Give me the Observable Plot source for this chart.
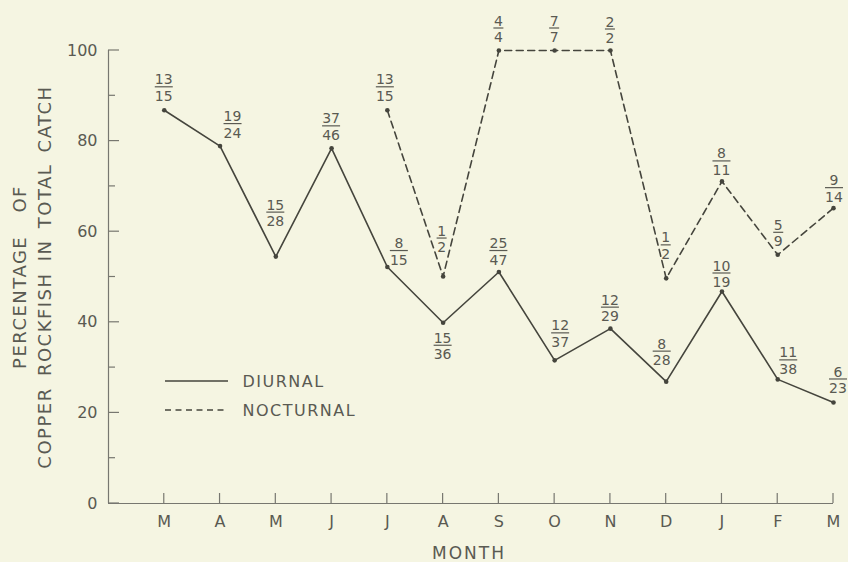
<!DOCTYPE html>
<html><head><meta charset="utf-8">
<script src="https://cdn.jsdelivr.net/npm/d3@7"></script>
<script src="https://cdn.jsdelivr.net/npm/@observablehq/plot@0.6"></script>
<style>
html,body{margin:0;padding:0;background:#f5f5e2;}
</style>
</head><body><div id="chart"></div>
<script>
const months = ["M","A","M","J","J","A","S","O","N","D","J","F","M"];
const diurnalPct = [86.8, 78.9, 54.5, 78.4, 52.2, 39.9, 51.1, 31.6, 38.6, 26.9, 46.8, 27.4, 22.3];
const diurnalNum = [13, 19, 15, 37, 8, 15, 25, 12, 12, 8, 10, 11, 6];
const diurnalDen = [15, 24, 28, 46, 15, 36, 47, 37, 29, 28, 19, 38, 23];
const nocturnalPct = [null, null, null, null, 86.8, 50.1, 100, 100, 100, 49.7, 71.1, 54.9, 65.2];
const nocturnalNum = [null, null, null, null, 13, 1, 4, 7, 2, 1, 8, 5, 9];
const nocturnalDen = [null, null, null, null, 15, 2, 4, 7, 2, 2, 11, 9, 14];
const yTicks = [0, 20, 40, 60, 80, 100];
const yMinorTicks = [10, 30, 50, 70, 90];
const seriesNames = ["DIURNAL", "NOCTURNAL"];

// label placement: pixel offset of each fraction bar from its point
const diurnalLabelOffset = [[0,-23],[13,-22],[0,-44],[0,-22],[12,-16],[0,23],[0,-21],[6,-27],[0,-21],[-4,-30],[0,-18],[11,-19],[5,-23]];
const nocturnalLabelOffset = [null,null,null,null,[-2,-23],[-1,-38],[0,-22],[0,-22],[0,-21],[0,-33],[0,-20],[1,-22],[1,-20]];

const ink = "#45453d";
const axisInk = "#777770";
const textInk = "#5a5a52";

const diurnal = months.map((m, i) => ({i, v: diurnalPct[i]}));
const nocturnal = months.map((m, i) => ({i, v: nocturnalPct[i]})).filter(d => d.v != null);

function fractionMark(pct, num, den, offs) {
  return (index, scales) => {
    const g = d3.create("svg:g").attr("font-size", 14).attr("fill", textInk)
      .attr("text-anchor", "middle").attr("font-family", "DejaVu Sans");
    pct.forEach((v, i) => {
      if (v == null) return;
      const cx = scales.x(i) + offs[i][0], cy = scales.y(v) + offs[i][1];
      const n = Math.max(String(num[i]).length, String(den[i]).length);
      const w = n * 8 + 2;
      g.append("text").attr("x", cx).attr("y", cy - 7.5).attr("dy", "0.36em").text(num[i]);
      g.append("line").attr("x1", cx - w / 2).attr("x2", cx + w / 2).attr("y1", cy).attr("y2", cy)
        .attr("stroke", textInk).attr("stroke-width", 1.2);
      g.append("text").attr("x", cx).attr("y", cy + 9).attr("dy", "0.36em").text(den[i]);
    });
    return g.node();
  };
}

// inward-pointing axis ticks, placed through the plot's scales
function axisTicks(index, scales) {
  const g = d3.create("svg:g").attr("stroke", axisInk).attr("stroke-width", 1.2);
  const x0 = scales.x(-1), y0 = scales.y(0);
  yTicks.forEach(t => g.append("line").attr("x1", x0).attr("x2", x0 + 11).attr("y1", scales.y(t)).attr("y2", scales.y(t)));
  yMinorTicks.forEach(t => g.append("line").attr("x1", x0).attr("x2", x0 + 7).attr("y1", scales.y(t)).attr("y2", scales.y(t)));
  months.forEach((m, i) => g.append("line").attr("x1", scales.x(i)).attr("x2", scales.x(i)).attr("y1", y0).attr("y2", y0 - 10));
  return g.node();
}

function legendSamples(index, scales, values, dims) {
  const g = d3.create("svg:g").attr("stroke", ink).attr("stroke-width", 1.3);
  const x0 = dims.marginLeft + 57, x1 = dims.marginLeft + 120;
  g.append("line").attr("x1", x0).attr("x2", x1).attr("y1", dims.marginTop + 331).attr("y2", dims.marginTop + 331);
  g.append("line").attr("x1", x0).attr("x2", x1).attr("y1", dims.marginTop + 360).attr("y2", dims.marginTop + 360)
    .attr("stroke-dasharray", "6,4.5");
  return g.node();
}

const chart = Plot.plot({
  width: 848,
  height: 562,
  marginTop: 50,
  marginRight: 15,
  marginBottom: 59,
  marginLeft: 108,
  style: {background: "#f5f5e2", fontFamily: "DejaVu Sans"},
  x: {domain: [-1, 12]},
  y: {domain: [0, 100]},
  marks: [
    Plot.ruleX([-1], {y1: 0, y2: 100, stroke: axisInk, strokeWidth: 1.2}),
    Plot.ruleY([0], {x1: -1, x2: 12, stroke: axisInk, strokeWidth: 1.2}),
    Plot.axisY({ticks: yTicks, tickSize: 0, tickPadding: 11, fontSize: 16, fill: textInk, label: null}),
    Plot.axisX({ticks: d3.range(months.length), tickFormat: i => months[i], tickSize: 0, tickPadding: 12, fontSize: 16, fill: textInk, label: null}),
    axisTicks,
    Plot.line(diurnal, {x: "i", y: "v", stroke: ink, strokeWidth: 1.6}),
    Plot.line(nocturnal, {x: "i", y: "v", stroke: ink, strokeWidth: 1.6, strokeDasharray: "7,4.5"}),
    Plot.dot(diurnal, {x: "i", y: "v", r: 2.3, fill: ink}),
    Plot.dot(nocturnal, {x: "i", y: "v", r: 2.3, fill: ink}),
    fractionMark(diurnalPct, diurnalNum, diurnalDen, diurnalLabelOffset),
    fractionMark(nocturnalPct, nocturnalNum, nocturnalDen, nocturnalLabelOffset),
    legendSamples,
    Plot.text([seriesNames[0]], {frameAnchor: "top-left", dx: 134, dy: 331, textAnchor: "start", lineAnchor: "middle", fontSize: 16, fill: textInk}),
    Plot.text([seriesNames[1]], {frameAnchor: "top-left", dx: 134, dy: 360, textAnchor: "start", lineAnchor: "middle", fontSize: 16, fill: textInk}),
    Plot.text(["MONTH"], {frameAnchor: "bottom", dx: -2, dy: 50, lineAnchor: "middle", fontSize: 17, fill: textInk}),
    Plot.text(["PERCENTAGE OF"], {frameAnchor: "left", dx: -88, rotate: -90, textAnchor: "middle", lineAnchor: "middle", fontSize: 18, fill: textInk}),
    Plot.text(["COPPER ROCKFISH IN TOTAL CATCH"], {frameAnchor: "left", dx: -63, rotate: -90, textAnchor: "middle", lineAnchor: "middle", fontSize: 18, fill: textInk})
  ]
});
// lettering spacing like the original hand-lettered labels
const spacing = {"DIURNAL": [1.5, 0], "NOCTURNAL": [1.5, 0], "MONTH": [2, 0],
  "PERCENTAGE OF": [1.5, 16], "COPPER ROCKFISH IN TOTAL CATCH": [1.5, 4]};
d3.select(chart).selectAll("text").each(function() {
  const s = spacing[this.textContent];
  if (s) d3.select(this).attr("letter-spacing", s[0]).attr("word-spacing", s[1]);
});
document.getElementById("chart").appendChild(chart);
</script>
</body></html>
